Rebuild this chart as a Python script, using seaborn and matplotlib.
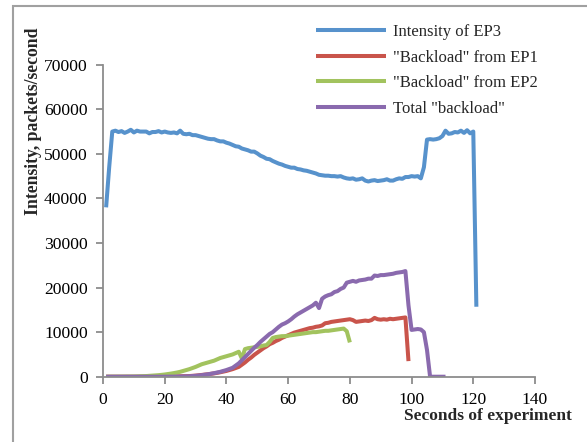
import numpy as np
import pandas as pd
import seaborn as sns
import matplotlib
matplotlib.use("Agg")
import matplotlib.pyplot as plt
from matplotlib.patches import Rectangle

# ---- data ----
ep3_x = list(range(1, 122))
ep3 = [38000, 47000, 55000, 55200, 54900, 55100, 54700, 55000, 55400, 54800,
       55200, 55000, 55000, 55000, 54600, 54900, 54900, 55100, 54800, 55000,
       54800, 54700, 54800, 54600, 55200, 54500, 54400, 54500, 54200, 54200,
       54000, 53800, 53600, 53400, 53300, 53300, 53000, 52800, 52800, 52500,
       52300, 52000, 51700, 51600, 51200, 51000, 50800, 50500, 50500, 50100,
       49600, 49300, 48900, 48800, 48400, 48100, 47800, 47600, 47300, 47100,
       46900, 46900, 46600, 46500, 46300, 46200, 46000, 45800, 45600, 45300,
       45200, 45100, 45100, 45000, 45000, 44900, 45000, 44700, 44500, 44400,
       44500, 44200, 44300, 44500, 44000, 43800, 44000, 44100, 43900, 44000,
       44100, 44300, 44000, 44000, 44300, 44500, 44400, 44800, 44800, 45000,
       44900, 45000, 44500, 47000, 53200, 53300, 53200, 53300, 53500, 54000,
       55200, 54500, 54600, 54900, 54800, 55200, 54700, 55300, 54600, 55000,
       15700]

ep1_x = list(range(1, 100))
ep1 = [0, 0, 0, 0, 0, 0, 0, 0, 0, 0,
       0, 10, 10, 20, 20, 30, 30, 40, 40, 50,
       60, 70, 80, 90, 100, 120, 130, 150, 200, 250,
       320, 400, 480, 550, 650, 750, 870, 1000, 1150, 1300,
       1500, 1700, 1950, 2200, 2700, 3200, 3800, 4300, 4900, 5400,
       5900, 6400, 6800, 7300, 7600, 8000, 8300, 8700, 9000, 9300,
       9600, 9900, 10100, 10300, 10500, 10700, 10900, 11000, 11200, 11300,
       11500, 12000, 12100, 12300, 12400, 12500, 12600, 12700, 12800, 12900,
       12700, 12300, 12400, 12500, 12600, 12500, 12700, 13200, 12900, 12800,
       12900, 12800, 13000, 12900, 13000, 13100, 13200, 13300, 3500]

ep2_x = list(range(1, 81))
ep2 = [0, 0, 10, 10, 20, 20, 30, 40, 40, 50,
       70, 100, 120, 150, 200, 250, 300, 350, 420, 500,
       600, 700, 820, 950, 1100, 1300, 1500, 1700, 1950, 2200,
       2500, 2800, 3000, 3200, 3400, 3600, 3900, 4200, 4400, 4600,
       4800, 5000, 5300, 5600, 4100, 6200, 6400, 6500, 6600, 6700,
       6800, 7000, 7100, 7800, 8700, 8900, 9000, 9100, 9100, 9200,
       9300, 9400, 9500, 9600, 9700, 9800, 9900, 10000, 10000, 10100,
       10200, 10300, 10300, 10400, 10500, 10600, 10700, 10800, 10200, 7700]

tot_x = list(range(1, 112))
tot = [0, 0, 0, 0, 0, 0, 0, 0, 0, 0,
       0, 0, 0, 0, 0, 0, 0, 0, 0, 10,
       10, 20, 20, 30, 50, 70, 80, 100, 150, 200,
       270, 350, 450, 550, 670, 800, 950, 1100, 1300, 1500,
       1750, 2000, 2500, 3000, 3700, 4400, 5100, 5800, 6500, 7100,
       7800, 8400, 9000, 9600, 10000, 10600, 11200, 11700, 12000, 12400,
       12900, 13500, 14000, 14400, 14800, 15200, 15600, 16000, 16600, 15400,
       17500, 18000, 18300, 18500, 19000, 19200, 19700, 20000, 21100, 21300,
       21500, 21300, 21600, 21700, 21800, 22000, 22000, 22700, 22600, 22800,
       22800, 22900, 23000, 23100, 23300, 23400, 23500, 23700, 16000, 10500,
       10600, 10700, 10600, 10000, 6000, 0, 0, 0, 0, 0,
       0]

labels = ['Intensity of EP3', '"Backload" from EP1', '"Backload" from EP2', 'Total "backload"']
colors = ['#5792CC', '#C9544B', '#A2C35E', '#8A6AAE']
x_ticks = list(range(0, 141, 20))
y_ticks = list(range(0, 70001, 10000))

# ---- plot ----
sns.set_style("ticks")
plt.rcParams['font.family'] = ['Liberation Serif', 'DejaVu Serif']

fig = plt.figure(figsize=(5.87, 4.42), dpi=100)
ax = fig.add_axes([0.1755, 0.1477, 0.9114 - 0.1755, 0.8536 - 0.1477])

series = [(ep3_x, ep3), (ep1_x, ep1), (ep2_x, ep2), (tot_x, tot)]
for (xs, ys), lab, c in zip(series, labels, colors):
    df = pd.DataFrame({'x': xs, 'y': ys})
    sns.lineplot(data=df, x='x', y='y', ax=ax, color=c, linewidth=2.9,
                 label=lab, legend=False, solid_capstyle='butt')

ax.set_xlim(0, 140)
ax.set_ylim(0, 70000)
ax.set_xticks(x_ticks)
ax.set_yticks(y_ticks)
ax.set_xticklabels([str(t) for t in x_ticks], fontsize=12.6)
ax.set_yticklabels([str(t) for t in y_ticks], fontsize=12.6)
ax.set_xlabel('')
ax.set_ylabel('')
for s in ['top', 'right']:
    ax.spines[s].set_visible(False)
for s in ['left', 'bottom']:
    ax.spines[s].set_color('#8C8C8C')
    ax.spines[s].set_linewidth(1.3)
ax.tick_params(axis='both', colors='#8C8C8C', length=5, width=1.3,
               labelcolor='black', direction='out', pad=6)

fig.text(34 / 587, 1 - 121 / 442, 'Intensity, packets/second', rotation=90,
         fontsize=12.7, fontweight='bold', ha='center', va='center')
fig.text(572 / 587, 1 - 416 / 442, 'Seconds of experiment',
         fontsize=12.5, fontweight='bold', ha='right', va='center')

handles, labs = ax.get_legend_handles_labels()
fig.legend(handles, labs, loc='upper left', bbox_to_anchor=(301 / 587, 1 - 9 / 442),
           frameon=False, fontsize=12, handlelength=4.2, handletextpad=0.4,
           labelspacing=0.58)

fig.patches.append(Rectangle((13 / 587, -0.1), 1.2, 1 - 6 / 442 + 0.1,
                             transform=fig.transFigure, fill=False,
                             edgecolor='#A0A0A0', linewidth=1.5))

fig.savefig('out.png', dpi=100)
